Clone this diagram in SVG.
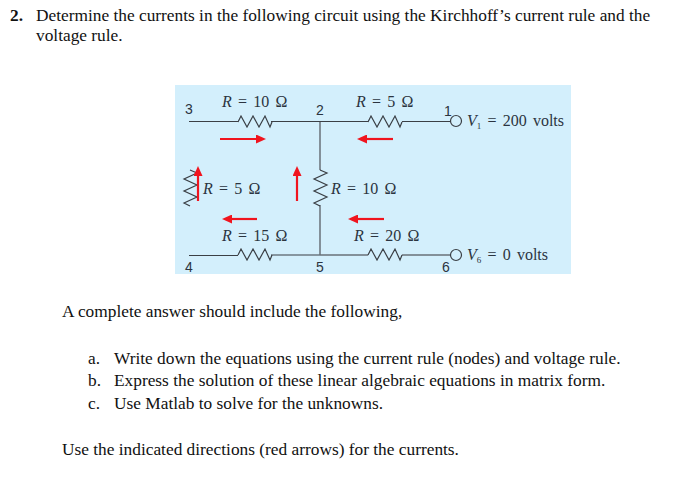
<svg xmlns="http://www.w3.org/2000/svg" width="682" height="478" viewBox="0 0 682 478">
<style>
text{font-family:"Liberation Serif",serif;fill:#111}
.p{font-size:17.33px}
.c{font-size:16px;fill:#2b3440;word-spacing:2.2px}
.n{font-family:"Liberation Sans",sans-serif;font-size:14px;fill:#2b3440}
.i{font-style:italic}
.w{fill:none;stroke:#3a3f45;stroke-width:1.2}
.g{fill:none;stroke:#6a7278;stroke-width:1.5}
.a{fill:none;stroke:#f0141e;stroke-width:2.200}
</style>
<defs>
<marker id="h" markerWidth="10" markerHeight="9" refX="1" refY="4.500" orient="auto" markerUnits="userSpaceOnUse"><path d="M0 0L10 4.500L0 9Z" fill="#f0141e"/></marker>
<path id="rh" d="M0 0l3 -6l6 11l6 -11l6 11l6 -11l5 11l2 -5" class="w"/>
<path id="rv" d="M0 -1l7 3l-13 6l13 6l-13 6l13 6l-13 6l6 3" class="w"/>
</defs>
<rect width="682" height="478" fill="#fff"/>
<rect x="175" y="85" width="396" height="189" fill="#d3effc"/>
<g id="connectors">
<path class="w" d="M189 121.500H238M271 121.500H368M402 121.500H451M189 255.500H238M271 255H320"/>
<path class="g" d="M320 122V170M320 205V255M320 255H368M402 255H451"/>
<use href="#rh" x="238" y="122"/><use href="#rh" x="368" y="122"/>
<use href="#rh" x="238" y="255"/><use href="#rh" x="368" y="255"/>
<use href="#rv" x="320" y="171"/><use href="#rv" x="190" y="171"/>
<g marker-end="url(#h)">
<path class="a" d="M220 139H257"/><path class="a" d="M393 139H366"/>
<path class="a" d="M198 201V175"/><path class="a" d="M297 201V175"/>
<path class="a" d="M257 219H231"/><path class="a" d="M384 219H357"/>
</g>
</g>
<g id="node-1"><circle cx="456" cy="121" r="5.500" fill="none" stroke="#3a3f45" stroke-width="1.200"/><text class="n" x="444" y="116">1</text><text class="c" x="467" y="126"><tspan class="i">V</tspan><tspan font-size="9" dy="3">1</tspan><tspan dy="-3"> = 200 volts</tspan></text></g>
<g id="node-2"><text class="n" x="316" y="115">2</text></g>
<g id="node-3"><text class="n" x="185" y="114">3</text></g>
<g id="node-4"><text class="n" x="185" y="272">4</text></g>
<g id="node-5"><text class="n" x="316" y="272">5</text></g>
<g id="node-6"><circle cx="456" cy="255" r="5.500" fill="none" stroke="#3a3f45" stroke-width="1.200"/><text class="n" x="442" y="272">6</text><text class="c" x="467" y="260"><tspan class="i">V</tspan><tspan font-size="9" dy="3">6</tspan><tspan dy="-3"> = 0 volts</tspan></text></g>
<g id="resistor-labels">
<text class="c" x="222" y="107"><tspan class="i">R</tspan> = 10 Ω</text>
<text class="c" x="356" y="107"><tspan class="i">R</tspan> = 5 Ω</text>
<text class="c" x="203" y="194"><tspan class="i">R</tspan> = 5 Ω</text>
<text class="c" x="331" y="194"><tspan class="i">R</tspan> = 10 Ω</text>
<text class="c" x="222" y="241"><tspan class="i">R</tspan> = 15 Ω</text>
<text class="c" x="354" y="241"><tspan class="i">R</tspan> = 20 Ω</text>
</g>
<g id="text">
<text class="p" x="10" y="21" font-weight="bold">2.</text>
<text class="p" x="36" y="21">Determine the currents in the following circuit using the Kirchhoff’s current rule and the</text>
<text class="p" x="36" y="41">voltage rule.</text>
<text class="p" x="62" y="317">A complete answer should include the following,</text>
<text class="p" x="88" y="364">a.</text><text class="p" x="114" y="364">Write down the equations using the current rule (nodes) and voltage rule.</text>
<text class="p" x="88" y="386">b.</text><text class="p" x="114" y="386">Express the solution of these linear algebraic equations in matrix form.</text>
<text class="p" x="88" y="409">c.</text><text class="p" x="114" y="409">Use Matlab to solve for the unknowns.</text>
<text class="p" x="62" y="455">Use the indicated directions (red arrows) for the currents.</text>
</g>
</svg>
